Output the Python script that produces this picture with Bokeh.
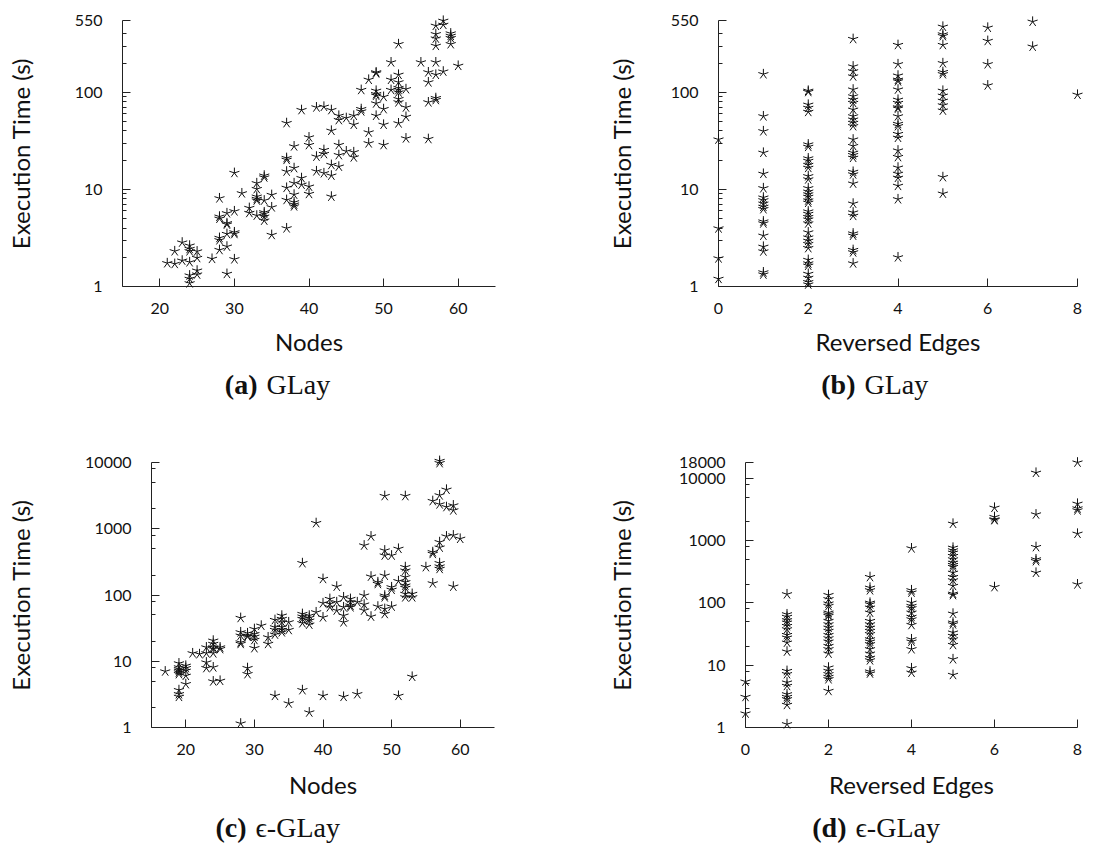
import math
from bokeh.plotting import figure
from bokeh.models import ColumnDataSource, Range1d, FixedTicker, NumeralTickFormatter
from bokeh.layouts import column, row
from bokeh.core.properties import value
from bokeh.embed import file_html
from bokeh.resources import INLINE

# ---------------- data ----------------
# (a) GLay: nodes vs execution time
a_nodes = [21, 22, 22, 23, 23, 24, 24, 24, 24, 24, 24, 24, 25, 25, 25, 25, 27,
           28, 28, 28, 28, 28, 28, 29, 29, 29, 29, 29, 29, 30, 30, 30, 30, 30, 31,
           32, 32, 33, 33, 33, 33, 33, 33, 34, 34, 34, 34, 34, 34, 34, 35, 35, 35,
           37, 37, 37, 37, 37, 37, 37, 38, 38, 38, 38, 38, 38, 38, 39, 39, 39,
           40, 40, 40, 40, 41, 41, 41, 42, 42, 42, 42, 43, 43, 43, 43, 43,
           44, 44, 44, 44, 44, 45, 45, 46, 46, 46, 46, 47, 47, 47, 48, 48, 48,
           49, 49, 49, 49, 49, 49, 49, 50, 50, 50, 50, 51, 51, 51,
           52, 52, 52, 52, 52, 52, 52, 52, 52, 53, 53, 53, 53, 55, 56, 56, 56, 56,
           57, 57, 57, 57, 57, 57, 57, 57, 58, 58, 58, 59, 59, 59, 59, 60]
a_time = [1.74, 2.31, 1.71, 2.84, 1.85, 2.44, 2.31, 2.64, 1.78, 1.30, 1.20, 1.08, 2.30, 1.97, 1.46, 1.33, 1.93,
          8.11, 5.25, 5.00, 3.17, 3.00, 2.38, 5.69, 4.49, 4.35, 3.48, 2.58, 1.35, 14.8, 5.96, 3.62, 3.48, 1.91, 9.13,
          6.45, 5.73, 11.6, 10.1, 8.44, 8.0, 7.7, 5.38, 13.9, 13.3, 7.7, 5.82, 5.6, 5.25, 4.78, 8.78, 6.55, 3.4,
          48.3, 21.1, 20.2, 15.3, 10.4, 7.8, 3.98, 27.8, 16.6, 11.6, 8.85, 7.38, 7.0, 6.7, 65.8, 13.1, 11.2,
          34.4, 28.7, 10.7, 9.0, 70.1, 21.8, 15.4, 71.2, 25.5, 23.2, 14.7, 65.8, 40.3, 17.9, 13.9, 8.44,
          57.5, 51.9, 28.7, 22.6, 17.2, 54.4, 24.7, 57.5, 46.5, 24.2, 21.4, 67.3, 63.7, 106, 135, 38.7, 29.9,
          161, 157, 104, 96, 92.6, 77, 57.5, 90, 67.3, 46.5, 28.7, 204, 106, 135,
          314, 152, 127, 111, 106, 100, 85.4, 79, 48, 108, 70, 56, 33.6, 204, 161, 127, 79, 33.1,
          486, 398, 359, 302, 204, 152, 87.4, 83.6, 547, 497, 164, 405, 383, 363, 314, 188]

# (b) GLay: reversed edges vs execution time
b_edges = [0, 0, 0, 0,
           1, 1, 1, 1, 1, 1, 1, 1, 1, 1, 1, 1, 1, 1, 1, 1, 1, 1,
           2, 2, 2, 2, 2, 2, 2, 2, 2, 2, 2, 2, 2, 2, 2, 2, 2, 2, 2, 2, 2, 2, 2, 2, 2, 2, 2, 2, 2, 2, 2, 2, 2, 2, 2, 2,
           3, 3, 3, 3, 3, 3, 3, 3, 3, 3, 3, 3, 3, 3, 3, 3, 3, 3, 3, 3, 3, 3, 3, 3, 3, 3, 3, 3, 3,
           4, 4, 4, 4, 4, 4, 4, 4, 4, 4, 4, 4, 4, 4, 4, 4, 4, 4, 4, 4, 4, 4, 4,
           5, 5, 5, 5, 5, 5, 5, 5, 5, 5, 5, 5, 5, 5,
           6, 6, 6, 6, 7, 7, 8]
b_time = [32.7, 3.97, 1.95, 1.2,
          154, 56.7, 39.8, 23.9, 14.5, 10.3, 8.25, 7.74, 7.15, 6.63, 6.27, 4.68, 4.47, 3.34, 2.57, 2.3, 1.4, 1.33,
          104, 101, 74.7, 69.3, 63, 29.1, 27.5, 20.9, 19.7, 17.9, 16.7, 13.7, 12.7, 10.3, 9.5, 8.9, 8.4, 7.7,
          7.3, 5.93, 5.6, 5.2, 4.9, 4.47, 3.61, 3.2, 2.96, 2.74, 2.49, 1.88, 1.73, 1.64, 1.35, 1.23, 1.11, 1.05,
          355, 185, 165, 146, 107, 91, 84, 77.8, 66.4, 56.7, 52.5, 48.5, 44.9, 32.7, 28, 23.9, 22.6, 21.2,
          15.2, 14.3, 11.5, 7.15, 5.79, 5.35, 3.52, 3.34, 2.38, 2.25, 1.73,
          308, 195, 149, 135, 130, 107, 84, 77.8, 70.1, 68.1, 56.7, 47.4, 44.9, 37.3, 34.1, 25.2, 21.6, 16.8,
          14.5, 13.2, 10.9, 7.93, 2.0,
          475, 396, 380, 308, 200, 162, 154, 104, 92.5, 82, 73.5, 65, 13.4, 9.06,
          464, 339, 195, 118, 535, 296, 94.6]

# (c) eps-GLay: nodes vs execution time
c_nodes = [17, 19, 19, 19, 19, 19, 19, 19, 19, 19, 20, 20, 20, 20, 20, 21, 22,
           23, 23, 23, 23, 24, 24, 24, 24, 24, 24, 24, 25, 25, 25,
           28, 28, 28, 28, 28, 28, 29, 29, 29, 29, 29, 30, 30, 30, 30, 30, 31, 32, 32,
           33, 33, 33, 33, 33, 34, 34, 34, 34, 34, 34, 35, 35, 35,
           37, 37, 37, 37, 37, 37, 38, 38, 38, 38, 38, 39, 39, 40, 40, 40, 40,
           41, 41, 41, 42, 42, 42, 43, 43, 43, 43, 43, 44, 44, 44, 44, 45, 45,
           46, 46, 46, 46, 47, 47, 47, 48, 48, 48, 49, 49, 49, 49, 49, 49, 49, 49,
           50, 50, 50, 50, 51, 51, 51, 52, 52, 52, 52, 52, 52, 52, 52, 52, 53, 53, 53, 55,
           56, 56, 56, 56, 57, 57, 57, 57, 57, 57, 57, 57, 57, 58, 58, 58, 59, 59, 59, 59, 60]
c_time = [7.03, 9.3, 8.1, 7.6, 7.2, 6.8, 6.4, 3.67, 3.19, 2.91, 8.57, 7.9, 7.2, 6.05, 4.52, 13.2, 12.8,
          16.2, 13.2, 9.6, 7.9, 20.5, 18.3, 16.2, 15.3, 13.2, 8.1, 4.97, 16.2, 15.3, 5.08,
          45.1, 27.4, 24.4, 19.3, 18.3, 1.15, 26.5, 24.4, 23.5, 7.9, 6.4, 30.7, 25.7, 23.5, 21, 15.8, 34.5, 23, 18.3,
          42, 32.6, 29.7, 25.3, 3.01, 48.9, 43.6, 38.8, 32.6, 29.7, 27.4, 38.8, 29.7, 2.31,
          303, 51.8, 47.3, 43.6, 37.6, 3.67, 48.9, 45.1, 41.1, 35.8, 1.69, 1220, 54.9, 175, 75.2, 46, 3.01,
          87.3, 73.5, 65.4, 134, 77.9, 58.4, 92.4, 65.4, 48.9, 38.8, 2.91, 87.3, 77.9, 69.4, 65.4, 77.9, 3.19,
          560, 98.2, 71.9, 58.4, 767, 190, 47.3, 156, 147, 67, 3123, 471, 395, 196, 98.2, 92.4, 61.6, 51.8,
          395, 131, 120, 67, 499, 162, 3.01, 3123, 264, 234, 186, 156, 139, 128, 104, 92.4, 104, 92.4, 5.84, 264,
          2624, 444, 418, 150, 10570, 9800, 3198, 2338, 629, 521, 303, 270, 248, 3891, 2130, 767, 2255, 1897, 794, 134, 707]

# (d) eps-GLay: reversed edges vs execution time
d_edges = [0, 0, 0,
           1, 1, 1, 1, 1, 1, 1, 1, 1, 1, 1, 1, 1, 1, 1, 1, 1, 1, 1, 1,
           2, 2, 2, 2, 2, 2, 2, 2, 2, 2, 2, 2, 2, 2, 2, 2, 2, 2, 2, 2, 2, 2, 2,
           3, 3, 3, 3, 3, 3, 3, 3, 3, 3, 3, 3, 3, 3, 3, 3, 3, 3, 3, 3, 3,
           4, 4, 4, 4, 4, 4, 4, 4, 4, 4, 4, 4, 4, 4, 4,
           5, 5, 5, 5, 5, 5, 5, 5, 5, 5, 5, 5, 5, 5, 5, 5, 5, 5, 5, 5, 5, 5, 5, 5,
           6, 6, 6, 6, 6, 7, 7, 7, 7, 7, 7, 8, 8, 8, 8, 8, 8]
d_time = [5.47, 3.1, 1.68,
          138, 65.8, 59.8, 52.8, 48.4, 42.7, 37.8, 30.6, 27.8, 23.1, 16.6, 8.1, 7.2, 5.28, 4.66, 3.42, 3.1, 2.85, 2.31, 1.13,
          134, 115, 98, 89.5, 70, 65.8, 61.9, 51.4, 45.4, 40.1, 35.6, 30.6, 27.1, 24.0, 20.4, 18.1, 15.4, 9.18,
          8.1, 7.2, 6.5, 5.97, 3.87,
          261, 176, 160, 101, 95.1, 84.3, 70, 51.4, 45.4, 40.1, 35.6, 31.6, 26.1, 24.0, 21.8, 18.1, 15.4, 13.2,
          12.0, 7.93, 7.37,
          754, 160, 147, 101, 89.5, 82.3, 70, 59.8, 54.6, 44.3, 26.1, 24.0, 18.1, 8.95, 7.6,
          1875, 772, 700, 643, 568, 502, 443, 408, 379, 306, 261, 231, 188, 141, 134, 67.4, 48.4, 45.4, 33.5,
          29.6, 26.1, 21.2, 12.5, 7.0,
          3384, 2400, 2200, 2140, 180, 12330, 2643, 791, 502, 470, 306, 18000, 3925, 3300, 3070, 1295, 199]

# tick values
nodes_ticks = [20, 30, 40, 50, 60]
edges_ticks = [0, 2, 4, 6, 8]
glay_y_ticks = [1, 10, 100, 550]
glay_y_minor = [2, 3, 4, 5, 6, 7, 8, 9, 20, 30, 40, 50, 60, 70, 80, 90, 200, 300, 400]
eps_c_y_ticks = [1, 10, 100, 1000, 10000]
eps_d_y_ticks = [1, 10, 100, 1000, 10000, 18000]
eps_y_minor = [2, 5, 8, 20, 50, 80, 200, 500, 800, 2000, 5000, 8000]

# captions
cap_tags = ["(a)", "(b)", "(c)", "(d)"]
cap_names = ["GLay", "GLay", "\u03f5-GLay", "\u03f5-GLay"]

SANS = "Lato"
SERIF = "Liberation Serif"
W = 551
STAR_ANGLES = [90, 162, 234, 306, 18]
INK = "#111111"


def panel(xs, ys, xb, yb, xpx, ypx, H, xticks, yticks, yminor, xlabel, ystand, xstand):
    fl, fr = xpx
    ft, fb = ypx
    p = figure(width=W, height=H,
               x_range=Range1d(xb[0], xb[1]),
               y_range=Range1d(yb[0] * 0.999999, yb[1] * 1.000001),
               y_axis_type="log", output_backend="svg", toolbar_location=None, tools="",
               min_border_left=fl, min_border_right=W - fr,
               min_border_top=ft, min_border_bottom=H - fb)
    p.outline_line_color = None
    p.xgrid.visible = False
    p.ygrid.visible = False
    p.background_fill_color = "white"
    p.border_fill_color = "white"

    xa = p.xaxis[0]
    xa.ticker = FixedTicker(ticks=xticks, minor_ticks=[])
    ya = p.yaxis[0]
    ya.ticker = FixedTicker(ticks=yticks, minor_ticks=yminor)
    ya.formatter = NumeralTickFormatter(format="0")
    for ax in (xa, ya):
        ax.axis_line_color = "#222222"
        ax.axis_line_width = 1
        ax.major_tick_line_color = "#222222"
        ax.minor_tick_line_color = "#222222"
        ax.major_tick_in = 8
        ax.major_tick_out = 0
        ax.minor_tick_in = 4
        ax.minor_tick_out = 0
        ax.major_label_text_font = SANS
        ax.major_label_text_font_size = "16px"
        ax.major_label_text_color = INK
        ax.axis_label_text_font = SANS
        ax.axis_label_text_font_size = "24px"
        ax.axis_label_text_font_style = "normal"
        ax.axis_label_text_color = INK
    xa.major_label_standoff = 16
    ya.major_label_standoff = 20
    xa.axis_label = xlabel
    ya.axis_label = "Execution Time (s)"
    ya.axis_label_standoff = ystand
    xa.axis_label_standoff = xstand

    src = ColumnDataSource(dict(x=xs, y=ys))
    for ang in STAR_ANGLES:
        p.ray(x="x", y="y", length=5.3, angle=ang, angle_units="deg", length_units="screen",
              source=src, line_color=INK, line_width=1, level="overlay")
    return p


def caption_strip(h, tag_right, name_left, ys, tags, names):
    c = figure(width=2 * W, height=h, x_range=Range1d(0, 2 * W), y_range=Range1d(h, 0),
               output_backend="svg", toolbar_location=None, tools="",
               x_axis_location=None, y_axis_location=None, min_border=0)
    c.outline_line_color = None
    c.xgrid.visible = False
    c.ygrid.visible = False
    c.text(x=tag_right, y=ys, text=tags, text_font=value(SERIF), text_font_style="bold",
           text_font_size=value("28px"), text_align="right", text_baseline="middle", text_color=INK)
    c.text(x=name_left, y=ys, text=names, text_font=value(SERIF), text_font_style="normal",
           text_font_size=value("28px"), text_align="left", text_baseline="middle", text_color=INK)
    return c


TOP_H = 364
BOT_H = 385
CAP1_H = 421 - TOP_H
CAP2_H = 843 - 421 - BOT_H

pa = panel(a_nodes, a_time, (15, 65), (1, 550), (122, 495), (20, 286), TOP_H,
           nodes_ticks, glay_y_ticks, glay_y_minor, "Nodes", 37, 10)
pb = panel(b_edges, b_time, (0, 8), (1, 550), (167, 526), (20, 286), TOP_H,
           edges_ticks, glay_y_ticks, glay_y_minor, "Reversed Edges", 32, 10)
pc = panel(c_nodes, c_time, (15, 65), (1, 10000), (151, 494), (41, 306), BOT_H,
           nodes_ticks, eps_c_y_ticks, eps_y_minor, "Nodes", 47, 12)
pd = panel(d_edges, d_time, (0, 8), (1, 18000), (194, 526), (40, 306), BOT_H,
           edges_ticks, eps_d_y_ticks, eps_y_minor, "Reversed Edges", 40, 12)

cap1 = caption_strip(CAP1_H, [257, 855], [266, 864], [384 - TOP_H] * 2,
                     cap_tags[:2], cap_names[:2])
cap2 = caption_strip(CAP2_H, [246, 846], [255, 855], [827 - 421 - BOT_H] * 2,
                     cap_tags[2:], cap_names[2:])

layout = column(row(pa, pb), cap1, row(pc, pd), cap2)
open("out.html", "w").write(file_html(layout, INLINE))
